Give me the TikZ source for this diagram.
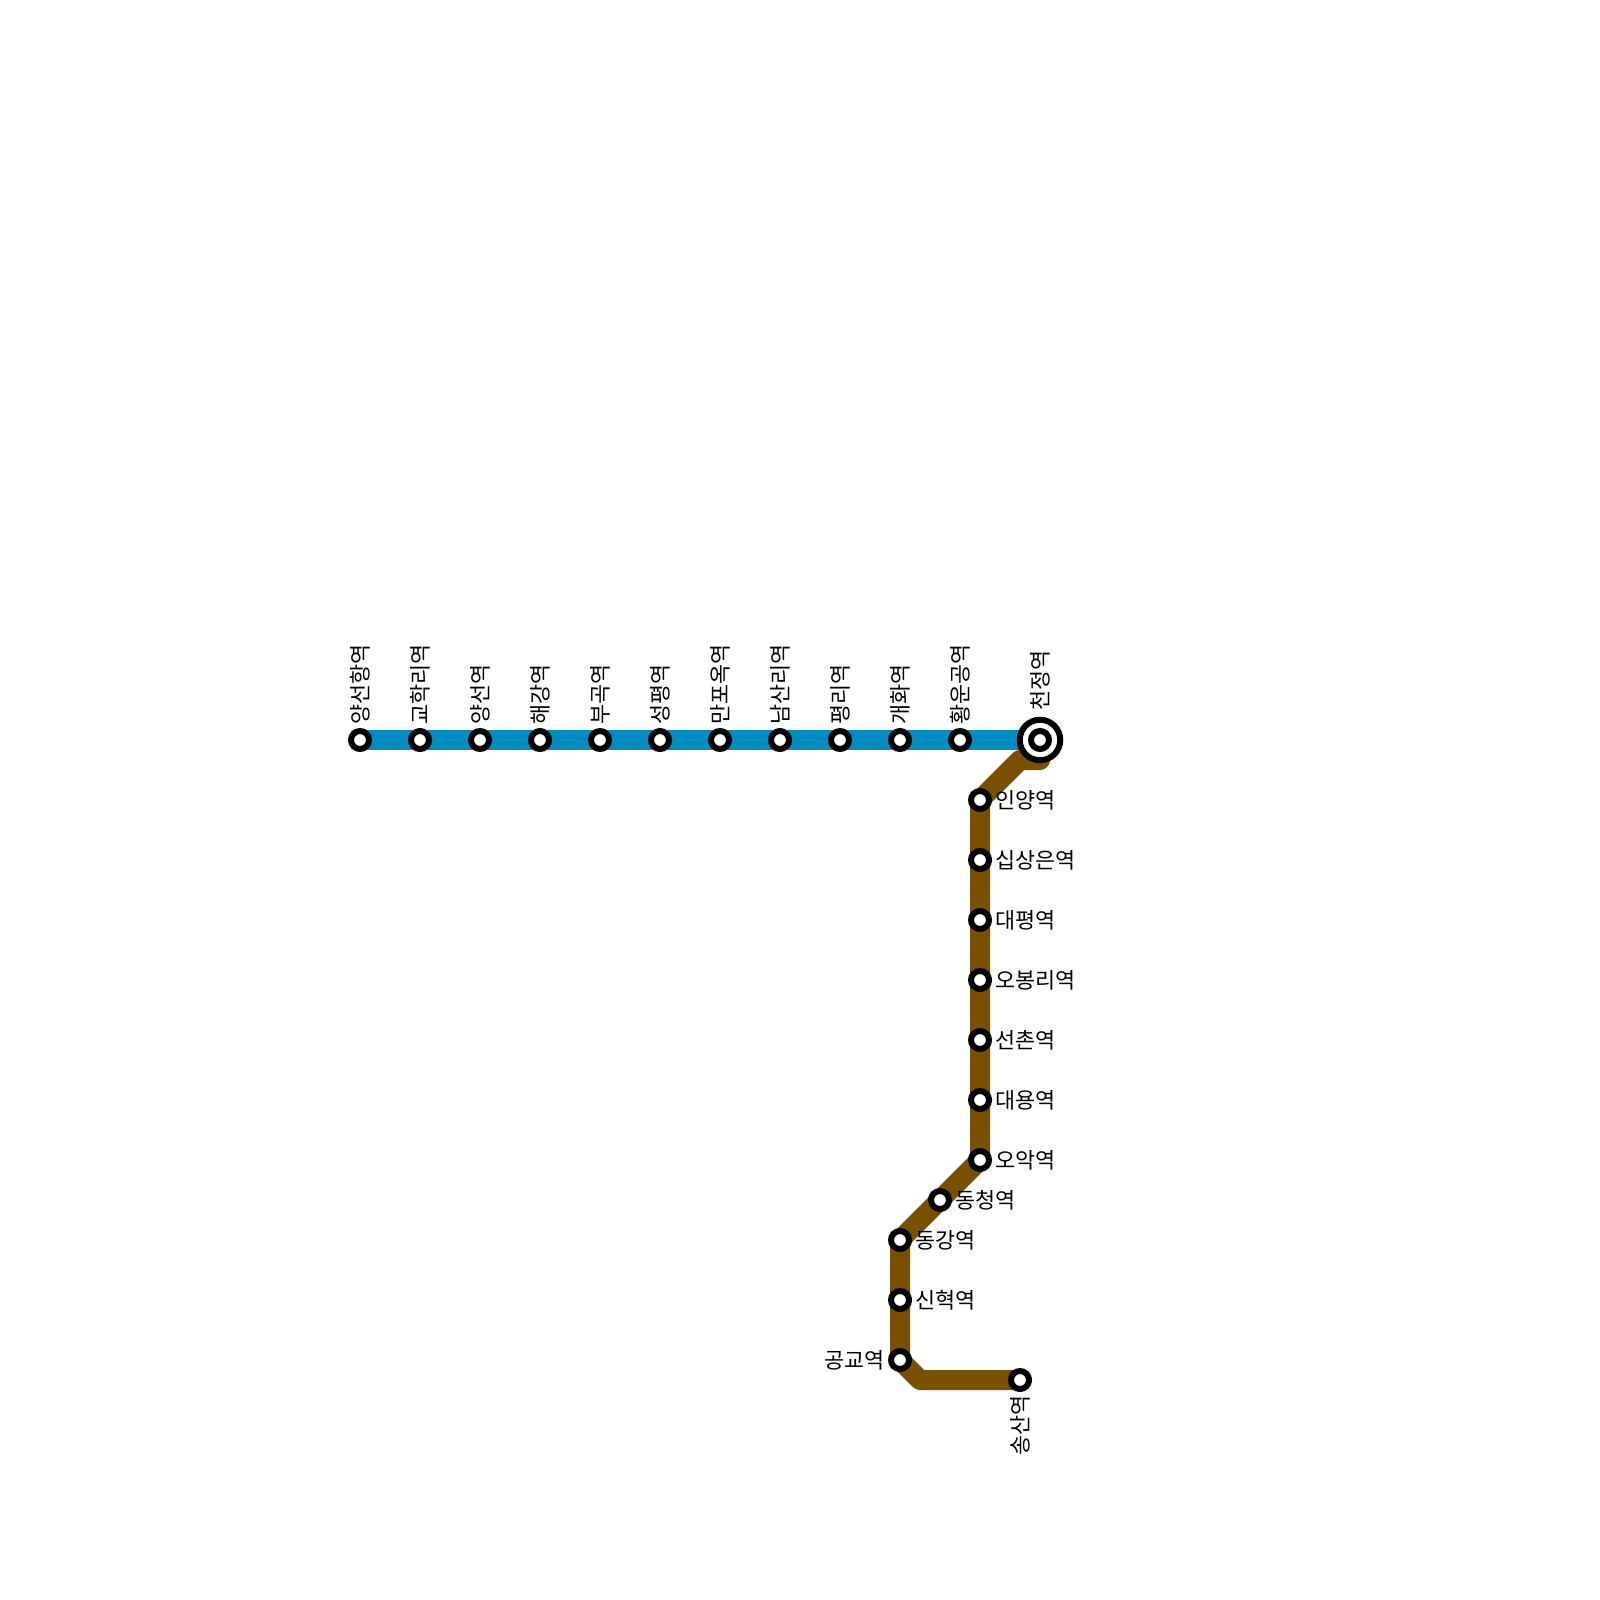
\documentclass[tikz,border=0pt]{standalone}
\usepackage{fontspec}
\newfontfamily\krfont{Noto Sans CJK KR}
\usetikzlibrary{backgrounds}
\definecolor{blueline}{HTML}{008CBF}
\definecolor{brownline}{HTML}{785000}
\tikzset{
  x=1pt,y=-1pt,
  stn/.style={circle,draw=black,fill=white,line width=6pt,minimum size=18pt,inner sep=0pt},
  hubring/.style={circle,draw=black,fill=white,line width=6pt,minimum size=40.5pt,inner sep=0pt},
  lbl/.style={font=\krfont\fontsize{21.8pt}{23pt}\selectfont,inner sep=0pt,text=black},
  lblr/.style={lbl,anchor=west,xshift=15pt},
  lbll/.style={lbl,anchor=east,xshift=-15pt},
  lblu/.style={lbl,rotate=90,anchor=west},
  lbld/.style={lbl,rotate=90,anchor=east},
  lineblue/.style={draw=blueline,line width=20pt,line cap=butt},
  linebrown/.style={draw=brownline,line width=20pt,line cap=round,line join=round},
}
\begin{document}
\begin{tikzpicture}
\useasboundingbox (0,0) rectangle (1600,1600);
% stations
\node[hubring] (hub) at (1040,740) {};
\node[stn] (hubc) at (1040,740) {};
\foreach \n/\x in {a/360,b/420,c/480,d/540,e/600,f/660,g/720,h/780,i/840,j/900,k/960}
  \node[stn] (\n) at (\x,740) {};
\foreach \n/\y in {r1/800,r2/860,r3/920,r4/980,r5/1040,r6/1100,r7/1160}
  \node[stn] (\n) at (980,\y) {};
\node[stn] (s1) at (940,1200) {};
\node[stn] (s2) at (900,1240) {};
\node[stn] (s3) at (900,1300) {};
\node[stn] (s4) at (900,1360) {};
\node[stn] (s5) at (1020,1380) {};
% bends
\coordinate (bendA) at (1040,760);
\coordinate (bendB) at (1020,760);
\coordinate (bendC) at (920,1380);
% lines
\begin{scope}[on background layer]
\draw[lineblue] (a.center) -- (hub.center);
\draw[linebrown] (bendA) -- (bendB) -- (r1.center) -- (r7.center) -- (s1.center) -- (s2.center) -- (s4.center) -- (bendC) -- (s5.center);
\end{scope}
% labels
\node[lblu] (la) at ([yshift=15pt]a.center) {양선항역};
\node[lblu] (lb) at ([yshift=15pt]b.center) {교학리역};
\node[lblu] (lc) at ([yshift=15pt]c.center) {양선역};
\node[lblu] (ld) at ([yshift=15pt]d.center) {해강역};
\node[lblu] (le) at ([yshift=15pt]e.center) {부곡역};
\node[lblu] (lf) at ([yshift=15pt]f.center) {성평역};
\node[lblu] (lg) at ([yshift=15pt]g.center) {만포옥역};
\node[lblu] (lh) at ([yshift=15pt]h.center) {남산리역};
\node[lblu] (li) at ([yshift=15pt]i.center) {평리역};
\node[lblu] (lj) at ([yshift=15pt]j.center) {개화역};
\node[lblu] (lk) at ([yshift=15pt]k.center) {황운공역};
\node[lblu] (lhub) at ([yshift=29.5pt]hub.center) {천정역};
\node[lblr] (lr1) at (r1.center) {인양역};
\node[lblr] (lr2) at (r2.center) {십상은역};
\node[lblr] (lr3) at (r3.center) {대평역};
\node[lblr] (lr4) at (r4.center) {오봉리역};
\node[lblr] (lr5) at (r5.center) {선촌역};
\node[lblr] (lr6) at (r6.center) {대용역};
\node[lblr] (lr7) at (r7.center) {오악역};
\node[lblr] (ls1) at (s1.center) {동청역};
\node[lblr] (ls2) at (s2.center) {동강역};
\node[lblr] (ls3) at (s3.center) {신혁역};
\node[lbll] (ls4) at (s4.center) {공교역};
\node[lbld] (ls5) at ([yshift=-15pt]s5.center) {송산역};
\end{tikzpicture}
\end{document}
